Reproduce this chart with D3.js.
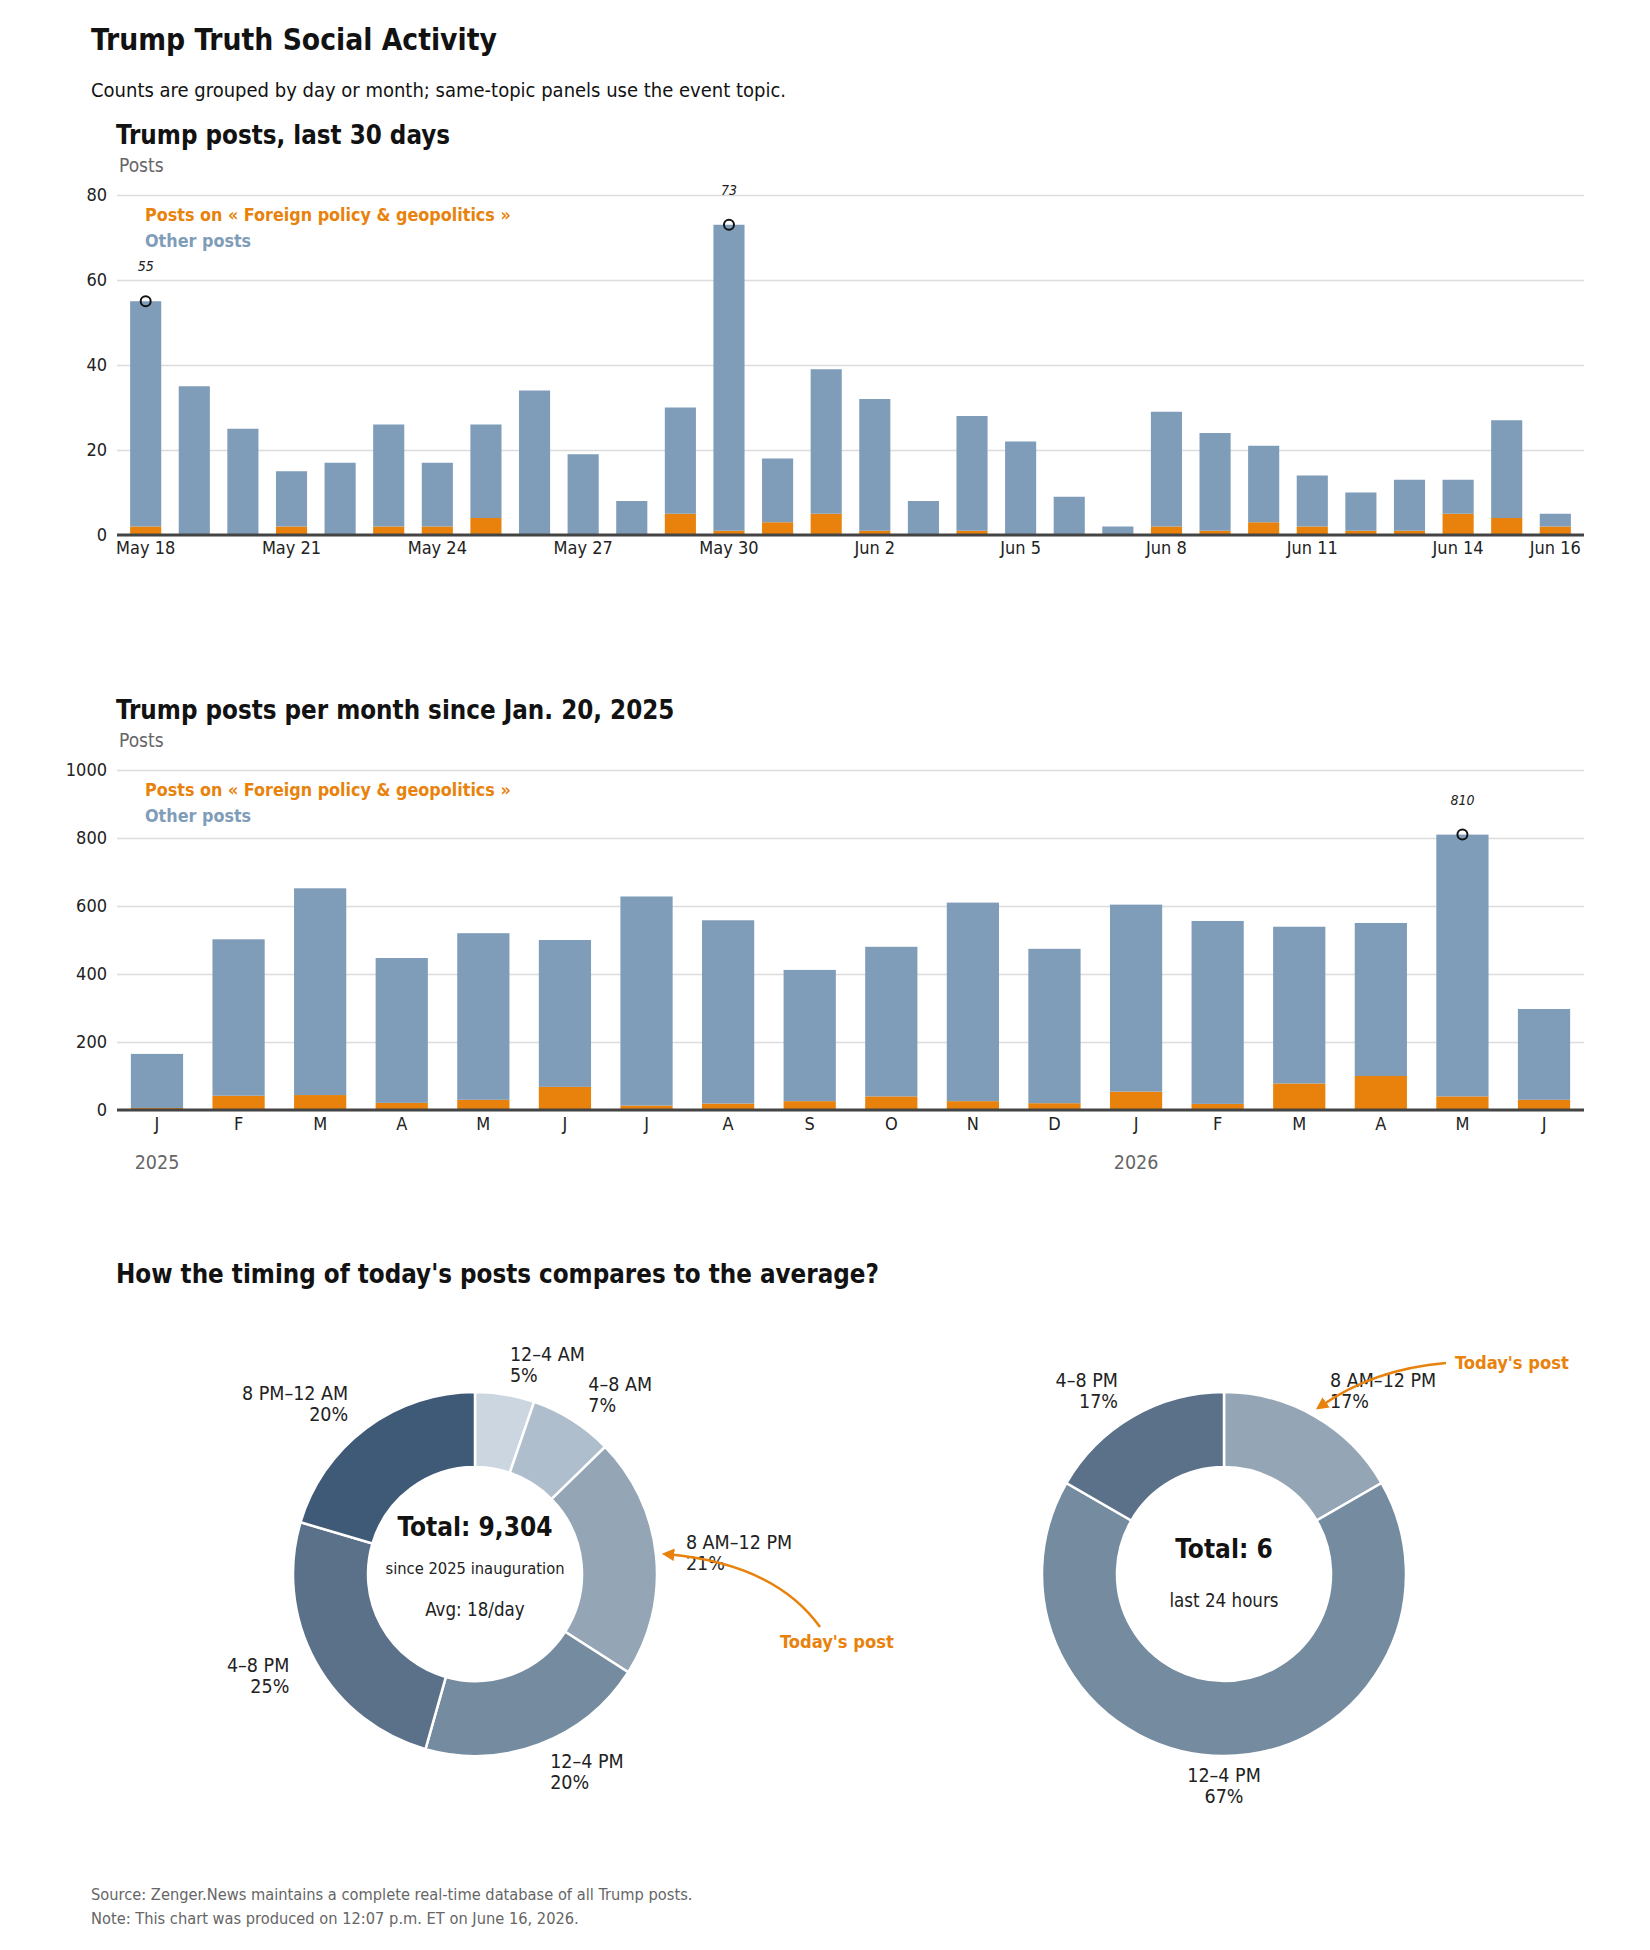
<!DOCTYPE html>
<html>
<head>
<meta charset="utf-8">
<script src="https://cdn.jsdelivr.net/npm/d3@7/dist/d3.min.js"></script>
<style>
  body { margin: 0; background: #fff; }
  svg text { font-family: 'Liberation Sans Narrow', 'DejaVu Sans Condensed', 'Roboto Condensed', Roboto, sans-serif; }
</style>
</head>
<body>
<svg id="chart"></svg>
<script>
/* Trump Truth Social Activity - daily / monthly bars + timing donuts */

// ---- daily posts, last 30 days
const dayLabels = ['May 18', 'May 19', 'May 20', 'May 21', 'May 22', 'May 23', 'May 24', 'May 25', 'May 26', 'May 27',
  'May 28', 'May 29', 'May 30', 'May 31', 'Jun 1', 'Jun 2', 'Jun 3', 'Jun 4', 'Jun 5', 'Jun 6',
  'Jun 7', 'Jun 8', 'Jun 9', 'Jun 10', 'Jun 11', 'Jun 12', 'Jun 13', 'Jun 14', 'Jun 15', 'Jun 16'];
const dayTicks = ['May 18', 'May 21', 'May 24', 'May 27', 'May 30', 'Jun 2', 'Jun 5', 'Jun 8', 'Jun 11', 'Jun 14', 'Jun 16'];
const dayTotals = [55, 35, 25, 15, 17, 26, 17, 26, 34, 19, 8, 30, 73, 18, 39, 32, 8, 28, 22, 9, 2, 29, 24, 21, 14, 10, 13, 13, 27, 5];
const dayTopic = [2, 0, 0, 2, 0, 2, 2, 4, 0, 0, 0, 5, 1, 3, 5, 1, 0, 1, 0, 0, 0, 2, 1, 3, 2, 1, 1, 5, 4, 2];
const dayMarked = ['May 18', 'May 30'];
const dayYTicks = [0, 20, 40, 60, 80];

// ---- monthly posts since Jan. 20, 2025
const monthKeys = ['2025-01', '2025-02', '2025-03', '2025-04', '2025-05', '2025-06', '2025-07', '2025-08', '2025-09',
  '2025-10', '2025-11', '2025-12', '2026-01', '2026-02', '2026-03', '2026-04', '2026-05', '2026-06'];
const monthLetters = ['J', 'F', 'M', 'A', 'M', 'J', 'J', 'A', 'S', 'O', 'N', 'D', 'J', 'F', 'M', 'A', 'M', 'J'];
const monthTotals = [165, 502, 652, 447, 520, 500, 628, 558, 412, 480, 610, 474, 604, 556, 539, 550, 810, 297];
const monthTopic = [6, 42, 44, 21, 30, 68, 13, 19, 26, 40, 26, 20, 54, 18, 78, 100, 40, 30];
const monthMarked = ['2026-05'];
const monthYTicks = [0, 200, 400, 600, 800, 1000];
const yearLabels = ['2025', '2026'];
const yearStarts = ['2025-01', '2026-01'];

// ---- timing of posts (4-hour slots)
const slots = ['12–4 AM', '4–8 AM', '8 AM–12 PM', '12–4 PM', '4–8 PM', '8 PM–12 AM'];
const allTimeCounts = [490, 690, 1990, 1890, 2345, 1899];
const todayCounts = [0, 0, 1, 4, 1, 0];
const todaySlot = '8 AM–12 PM';

const colors = {
  topic: '#e8820c',
  other: '#7f9cb8',
  text: '#121212',
  label: '#222',
  muted: '#666',
  grid: '#dcdcdc',
  axis: '#444',
  slots: ['#cbd6e0', '#afbecc', '#94a5b5', '#758b9f', '#5b7189', '#3f5a76']
};

const width = 1650, height = 1950;
const plotLeft = 117, plotRight = 1584, plotH = 340;

const svg = d3.select('#chart').attr('width', width).attr('height', height);
svg.append('rect').attr('width', width).attr('height', height).attr('fill', '#fff');

// Header
svg.append('text')
  .attr('x', 91).attr('y', 50)
  .attr('fill', colors.text)
  .attr('font-size', 29.7).attr('font-weight', 'bold')
  .text('Trump Truth Social Activity');

svg.append('text')
  .attr('x', 91).attr('y', 97)
  .attr('fill', colors.text)
  .attr('font-size', 20)
  .text('Counts are grouped by day or month; same-topic panels use the event topic.');

// ============================================
// Stacked bar panel (used twice)
// ============================================
function drawPanel(opt) {
  const g = svg.append('g');
  const top = opt.top;
  const bottom = top + plotH;

  const rows = opt.keys.map((k, i) => ({ key: k, topic: opt.topic[i], other: opt.totals[i] - opt.topic[i], total: opt.totals[i] }));
  const series = d3.stack().keys(['topic', 'other'])(rows);

  const x = d3.scaleBand()
    .domain(opt.keys)
    .range([plotLeft, plotRight])
    .paddingInner(0.36)
    .paddingOuter(opt.padOuter);

  const y = d3.scaleLinear()
    .domain([0, d3.max(opt.yTicks)])
    .range([bottom, top]);

  // Titles
  g.append('text')
    .attr('x', 116).attr('y', top - 51)
    .attr('fill', colors.text)
    .attr('font-size', 25.7).attr('font-weight', 'bold')
    .text(opt.title);

  g.append('text')
    .attr('x', 119).attr('y', top - 23)
    .attr('fill', colors.muted)
    .attr('font-size', 19)
    .text('Posts');

  // Y axis + gridlines
  const yAxis = g.append('g')
    .attr('transform', `translate(${plotLeft},0)`)
    .call(d3.axisLeft(y).tickValues(opt.yTicks).tickFormat(d3.format('d'))
      .tickSize(-(plotRight - plotLeft)).tickPadding(10));
  yAxis.select('.domain').remove();
  yAxis.selectAll('line').attr('stroke', colors.grid).attr('stroke-width', 1.5);
  yAxis.selectAll('text')
    .attr('fill', colors.label)
    .attr('font-size', 18);

  // Bars
  g.selectAll('.layer')
    .data(series)
    .enter()
    .append('g')
    .attr('fill', d => colors[d.key])
    .selectAll('rect')
    .data(d => d)
    .enter()
    .append('rect')
    .attr('x', d => x(d.data.key))
    .attr('y', d => y(d[1]))
    .attr('width', x.bandwidth())
    .attr('height', d => y(d[0]) - y(d[1]));

  // Baseline
  g.append('line')
    .attr('x1', plotLeft).attr('x2', plotRight)
    .attr('y1', bottom).attr('y2', bottom)
    .attr('stroke', colors.axis).attr('stroke-width', 3);

  // X axis labels
  const xAxis = g.append('g')
    .attr('transform', `translate(0,${bottom})`)
    .call(d3.axisBottom(x).tickValues(opt.xTicks).tickFormat(opt.xFormat).tickSize(0).tickPadding(opt.xPad));
  xAxis.select('.domain').remove();
  xAxis.selectAll('text')
    .attr('fill', colors.label)
    .attr('font-size', 18);

  // Legend
  g.append('text')
    .attr('x', 145).attr('y', top + 21)
    .attr('dominant-baseline', 'middle')
    .attr('fill', colors.topic)
    .attr('font-size', 17.8).attr('font-weight', 'bold')
    .text('Posts on « Foreign policy & geopolitics »');

  g.append('text')
    .attr('x', 145).attr('y', top + 47)
    .attr('dominant-baseline', 'middle')
    .attr('fill', colors.other)
    .attr('font-size', 17.8).attr('font-weight', 'bold')
    .text('Other posts');

  // Marked values
  const marked = rows.filter(r => opt.marked.includes(r.key));
  g.selectAll('.mark-dot')
    .data(marked)
    .enter()
    .append('circle')
    .attr('cx', d => x(d.key) + x.bandwidth() / 2)
    .attr('cy', d => y(d.total))
    .attr('r', 5)
    .attr('fill', 'none')
    .attr('stroke', colors.text)
    .attr('stroke-width', 2);

  g.selectAll('.mark-label')
    .data(marked)
    .enter()
    .append('text')
    .attr('x', d => x(d.key) + x.bandwidth() / 2)
    .attr('y', d => y(d.total) - 34)
    .attr('text-anchor', 'middle')
    .attr('dominant-baseline', 'middle')
    .attr('fill', colors.label)
    .attr('font-size', 14)
    .attr('font-style', 'italic')
    .text(d => d.total);

  return { g, x, bottom };
}

drawPanel({
  top: 195,
  title: 'Trump posts, last 30 days',
  keys: dayLabels, totals: dayTotals, topic: dayTopic,
  yTicks: dayYTicks, xTicks: dayTicks, xFormat: d => d, xPad: 6,
  marked: dayMarked, padOuter: 0.27
});

const monthly = drawPanel({
  top: 770,
  title: 'Trump posts per month since Jan. 20, 2025',
  keys: monthKeys, totals: monthTotals, topic: monthTopic,
  yTicks: monthYTicks, xTicks: monthKeys, xFormat: (d, i) => monthLetters[i], xPad: 7,
  marked: monthMarked, padOuter: 0.17
});

// Year labels under the month letters
monthly.g.selectAll('.year')
  .data(yearLabels)
  .enter()
  .append('text')
  .attr('x', (d, i) => monthly.x(yearStarts[i]) + monthly.x.bandwidth() / 2)
  .attr('y', monthly.bottom + 53)
  .attr('text-anchor', 'middle')
  .attr('dominant-baseline', 'middle')
  .attr('fill', colors.muted)
  .attr('font-size', 19.5)
  .text(d => d);

// ============================================
// Timing donuts
// ============================================
svg.append('text')
  .attr('x', 116).attr('y', 1283)
  .attr('fill', colors.text)
  .attr('font-size', 25.7).attr('font-weight', 'bold')
  .text("How the timing of today's posts compares to the average?");

const defs = svg.append('defs');
defs.append('marker')
  .attr('id', 'arrow')
  .attr('viewBox', '0 0 10 10')
  .attr('refX', 5).attr('refY', 5)
  .attr('markerWidth', 5).attr('markerHeight', 5)
  .attr('orient', 'auto-start-reverse')
  .append('path')
  .attr('d', 'M0,0 L10,5 L0,10 Z')
  .attr('fill', colors.topic);

const outerR = 182, innerR = 107, labelR = 212, arrowR = 194;

function drawDonut(cx, cy, counts, centerLines, note) {
  const g = svg.append('g').attr('transform', `translate(${cx},${cy})`);
  const total = d3.sum(counts);
  const data = slots.map((s, i) => ({ slot: s, value: counts[i], color: colors.slots[i] }));
  const arcs = d3.pie().sort(null).value(d => d.value)(data).filter(a => a.value > 0);
  const arc = d3.arc().innerRadius(innerR).outerRadius(outerR);

  g.selectAll('.slice')
    .data(arcs)
    .enter()
    .append('path')
    .attr('d', arc)
    .attr('fill', d => d.data.color)
    .attr('stroke', '#fff')
    .attr('stroke-width', 2.5);

  // Slice labels
  const mid = d => (d.startAngle + d.endAngle) / 2;
  const labels = g.selectAll('.slice-label')
    .data(arcs)
    .enter()
    .append('text')
    .attr('x', d => labelR * Math.sin(mid(d)))
    .attr('y', d => -labelR * Math.cos(mid(d)))
    .attr('text-anchor', d => Math.abs(Math.sin(mid(d))) < 0.05 ? 'middle' : (Math.sin(mid(d)) > 0 ? 'start' : 'end'))
    .attr('fill', colors.label)
    .attr('font-size', 19.5);
  labels.append('tspan')
    .attr('x', d => labelR * Math.sin(mid(d)))
    .attr('dy', '-0.2em')
    .text(d => d.data.slot);
  labels.append('tspan')
    .attr('x', d => labelR * Math.sin(mid(d)))
    .attr('dy', '1.08em')
    .text(d => Math.round(d.value / total * 100) + '%');

  // Centre text
  g.selectAll('.center')
    .data(centerLines)
    .enter()
    .append('text')
    .attr('x', 0)
    .attr('y', d => d.dy)
    .attr('text-anchor', 'middle')
    .attr('dominant-baseline', 'middle')
    .attr('fill', d => d.bold ? colors.text : colors.label)
    .attr('font-size', d => d.size)
    .attr('font-weight', d => d.bold ? 'bold' : 'normal')
    .text(d => d.text);

  // "Today's post" arrow to the current slot
  const today = arcs.find(a => a.data.slot === todaySlot);
  const ax = arrowR * Math.sin(mid(today));
  const ay = -arrowR * Math.cos(mid(today));
  g.append('path')
    .attr('d', `M${note.from[0]},${note.from[1]} Q${note.ctrl[0]},${note.ctrl[1]} ${ax},${ay}`)
    .attr('fill', 'none')
    .attr('stroke', colors.topic)
    .attr('stroke-width', 2.5)
    .attr('marker-end', 'url(#arrow)');
  g.append('text')
    .attr('x', note.text[0]).attr('y', note.text[1])
    .attr('dominant-baseline', 'middle')
    .attr('fill', colors.topic)
    .attr('font-size', 18.2).attr('font-weight', 'bold')
    .text("Today's post");
}

drawDonut(475, 1574, allTimeCounts, [
  { text: 'Total: ' + d3.format(',')(d3.sum(allTimeCounts)), dy: -46, size: 26, bold: true },
  { text: 'since 2025 inauguration', dy: -5, size: 16.4 },
  { text: 'Avg: 18/day', dy: 36, size: 18.6 }
], { from: [345, 53], ctrl: [300, -10], text: [305, 69] });

drawDonut(1224, 1574, todayCounts, [
  { text: 'Total: ' + d3.sum(todayCounts), dy: -24, size: 26, bold: true },
  { text: 'last 24 hours', dy: 27, size: 18.6 }
], { from: [222, -211], ctrl: [150, -205], text: [231, -210] });

// Footer
svg.append('text')
  .attr('x', 91).attr('y', 1900)
  .attr('fill', colors.muted)
  .attr('font-size', 16.3)
  .text('Source: Zenger.News maintains a complete real-time database of all Trump posts.');

svg.append('text')
  .attr('x', 91).attr('y', 1924)
  .attr('fill', colors.muted)
  .attr('font-size', 16.3)
  .text('Note: This chart was produced on 12:07 p.m. ET on June 16, 2026.');
</script>
</body>
</html>
